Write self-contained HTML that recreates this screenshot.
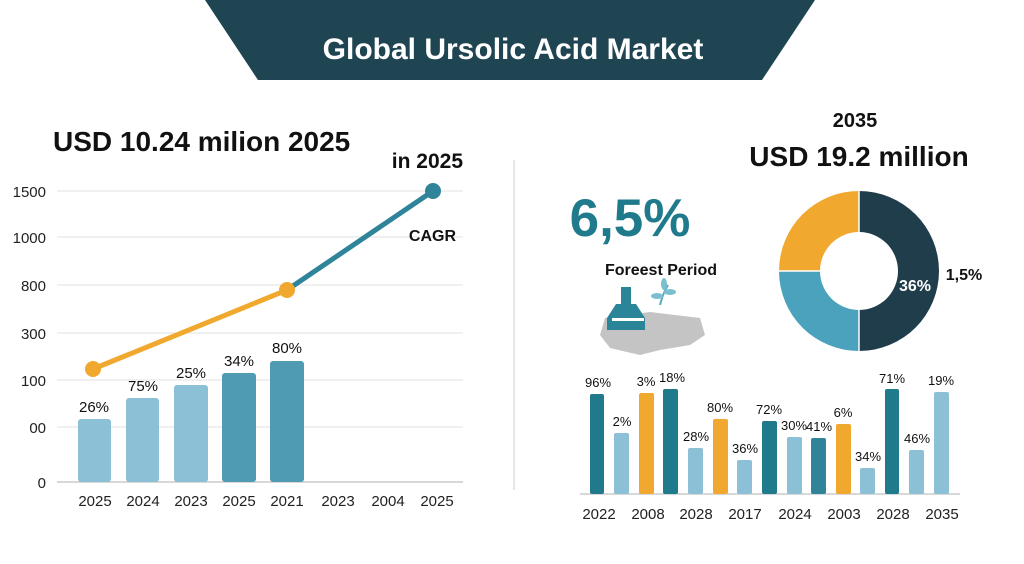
<!DOCTYPE html>
<html><head><meta charset="utf-8"><style>
body{margin:0;width:1024px;height:559px;background:#fff;overflow:hidden;font-family:"Liberation Sans",sans-serif}
</style></head><body>
<svg width="1024" height="559" viewBox="0 0 1024 559" xmlns="http://www.w3.org/2000/svg" font-family="Liberation Sans, sans-serif">
<polygon points="205,0 815,0 762,80 258,80" fill="#1f4452"/>
<text x="513" y="59" text-anchor="middle" font-size="30" font-weight="bold" fill="#fff">Global Ursolic Acid Market</text>
<line x1="514" y1="160" x2="514" y2="490" stroke="#ddd" stroke-width="1.5"/>
<text x="53" y="151" font-size="28" font-weight="bold" fill="#111">USD 10.24 milion 2025</text>
<text x="463" y="168" text-anchor="end" font-size="21" font-weight="bold" fill="#111">in 2025</text>
<g stroke="#e2e2e2" stroke-width="1">
<line x1="57" y1="191" x2="463" y2="191"/><line x1="57" y1="237" x2="463" y2="237"/><line x1="57" y1="285" x2="463" y2="285"/><line x1="57" y1="333" x2="463" y2="333"/><line x1="57" y1="380" x2="463" y2="380"/><line x1="57" y1="427" x2="463" y2="427"/>
</g>
<line x1="57" y1="482" x2="463" y2="482" stroke="#ccc" stroke-width="1.5"/>
<g font-size="15" fill="#222" text-anchor="end">
<text x="46" y="197">1500</text><text x="46" y="243">1000</text><text x="46" y="291">800</text><text x="46" y="339">300</text><text x="46" y="386">100</text><text x="46" y="433">00</text><text x="46" y="488">0</text>
</g>
<rect x="78" y="419" width="33" height="63" rx="3" fill="#8cc0d6"/>
<rect x="126" y="398" width="33" height="84" rx="3" fill="#8cc0d6"/>
<rect x="174" y="385" width="34" height="97" rx="3" fill="#8cc0d6"/>
<rect x="222" y="373" width="34" height="109" rx="3" fill="#4f9bb3"/>
<rect x="270" y="361" width="34" height="121" rx="3" fill="#4f9bb3"/>
<g font-size="15" fill="#111" text-anchor="middle">
<text x="94" y="412">26%</text><text x="143" y="391">75%</text><text x="191" y="378">25%</text><text x="239" y="366">34%</text><text x="287" y="353">80%</text>
</g>
<line x1="93" y1="369" x2="287" y2="290" stroke="#f0a92e" stroke-width="5"/>
<line x1="287" y1="290" x2="433" y2="191" stroke="#2f8499" stroke-width="5"/>
<circle cx="93" cy="369" r="8" fill="#f0a92e"/><circle cx="287" cy="290" r="8" fill="#f0a92e"/><circle cx="433" cy="191" r="8" fill="#2f8499"/>
<text x="456" y="241" text-anchor="end" font-size="16" font-weight="bold" fill="#111">CAGR</text>
<g font-size="15" fill="#222" text-anchor="middle">
<text x="95" y="506">2025</text><text x="143" y="506">2024</text><text x="191" y="506">2023</text><text x="239" y="506">2025</text><text x="287" y="506">2021</text><text x="338" y="506">2023</text><text x="388" y="506">2004</text><text x="437" y="506">2025</text>
</g>
<text x="855" y="127" text-anchor="middle" font-size="20" font-weight="bold" fill="#111">2035</text>
<text x="859" y="166" text-anchor="middle" font-size="28" font-weight="bold" fill="#111">USD 19.2 million</text>
<text x="630" y="236" text-anchor="middle" font-size="53" font-weight="bold" fill="#1f7a8c">6,5%</text>
<text x="661" y="275" text-anchor="middle" font-size="16" font-weight="bold" fill="#111">Foreest Period</text>
<g>
<path d="M605,318 L650,312 L700,318 L705,335 L690,345 L660,350 L640,355 L610,348 L600,335 Z" fill="#c4c4c4"/>
<rect x="621" y="287" width="10" height="18" fill="#2a8599"/>
<path d="M616,304 L636,304 L645,318 L645,330 L607,330 L607,318 Z" fill="#2a8599"/>
<rect x="612" y="318" width="32" height="3" fill="#fff"/>
<path d="M660,305 Q663,293 668,285" stroke="#5aa9bd" stroke-width="2" fill="none"/>
<ellipse cx="657" cy="296" rx="6" ry="3" fill="#7cc0d0"/><ellipse cx="670" cy="292" rx="6" ry="3" fill="#7cc0d0"/><ellipse cx="664" cy="284" rx="3" ry="6" fill="#7cc0d0"/>
</g>
<g transform="translate(859,271)">
<path d="M0,-80 A80,80 0 0 1 0,80 L0,39 A39,39 0 0 0 0,-39 Z" fill="#1f3d4b"/>
<path d="M0,80 A80,80 0 0 1 -80,0 L-39,0 A39,39 0 0 0 0,39 Z" fill="#4aa2bd"/>
<path d="M-80,0 A80,80 0 0 1 0,-80 L0,-39 A39,39 0 0 0 -39,0 Z" fill="#f0a92e"/>
<line x1="0" y1="-80" x2="0" y2="80" stroke="#fff" stroke-width="1.5"/><line x1="-80" y1="0" x2="-39" y2="0" stroke="#fff" stroke-width="1.5"/>
</g>
<text x="915" y="291" text-anchor="middle" font-size="16" font-weight="bold" fill="#fff">36%</text>
<text x="964" y="280" text-anchor="middle" font-size="16" font-weight="bold" fill="#111">1,5%</text>
<line x1="580" y1="494" x2="960" y2="494" stroke="#ccc" stroke-width="1.5"/>
<g>
<rect x="590" y="394" width="14" height="100" rx="2" fill="#1f7a8c"/>
<rect x="614" y="433" width="15" height="61" rx="2" fill="#8cc0d6"/>
<rect x="639" y="393" width="15" height="101" rx="2" fill="#f0a92e"/>
<rect x="663" y="389" width="15" height="105" rx="2" fill="#1f7a8c"/>
<rect x="688" y="448" width="15" height="46" rx="2" fill="#8cc0d6"/>
<rect x="713" y="419" width="15" height="75" rx="2" fill="#f0a92e"/>
<rect x="737" y="460" width="15" height="34" rx="2" fill="#8cc0d6"/>
<rect x="762" y="421" width="15" height="73" rx="2" fill="#1f7a8c"/>
<rect x="787" y="437" width="15" height="57" rx="2" fill="#8cc0d6"/>
<rect x="811" y="438" width="15" height="56" rx="2" fill="#2f8499"/>
<rect x="836" y="424" width="15" height="70" rx="2" fill="#f0a92e"/>
<rect x="860" y="468" width="15" height="26" rx="2" fill="#8cc0d6"/>
<rect x="885" y="389" width="14" height="105" rx="2" fill="#1f7a8c"/>
<rect x="909" y="450" width="15" height="44" rx="2" fill="#8cc0d6"/>
<rect x="934" y="392" width="15" height="102" rx="2" fill="#8cc0d6"/>
</g>
<g font-size="13" fill="#111" text-anchor="middle">
<text x="598" y="387">96%</text><text x="622" y="426">2%</text><text x="646" y="386">3%</text><text x="672" y="382">18%</text><text x="696" y="441">28%</text><text x="720" y="412">80%</text><text x="745" y="453">36%</text><text x="769" y="414">72%</text><text x="794" y="430">30%</text><text x="819" y="431">41%</text><text x="843" y="417">6%</text><text x="868" y="461">34%</text><text x="892" y="383">71%</text><text x="917" y="443">46%</text><text x="941" y="385">19%</text>
</g>
<g font-size="15" fill="#222" text-anchor="middle">
<text x="599" y="519">2022</text><text x="648" y="519">2008</text><text x="696" y="519">2028</text><text x="745" y="519">2017</text><text x="795" y="519">2024</text><text x="844" y="519">2003</text><text x="893" y="519">2028</text><text x="942" y="519">2035</text>
</g>
</svg>
</body></html>
